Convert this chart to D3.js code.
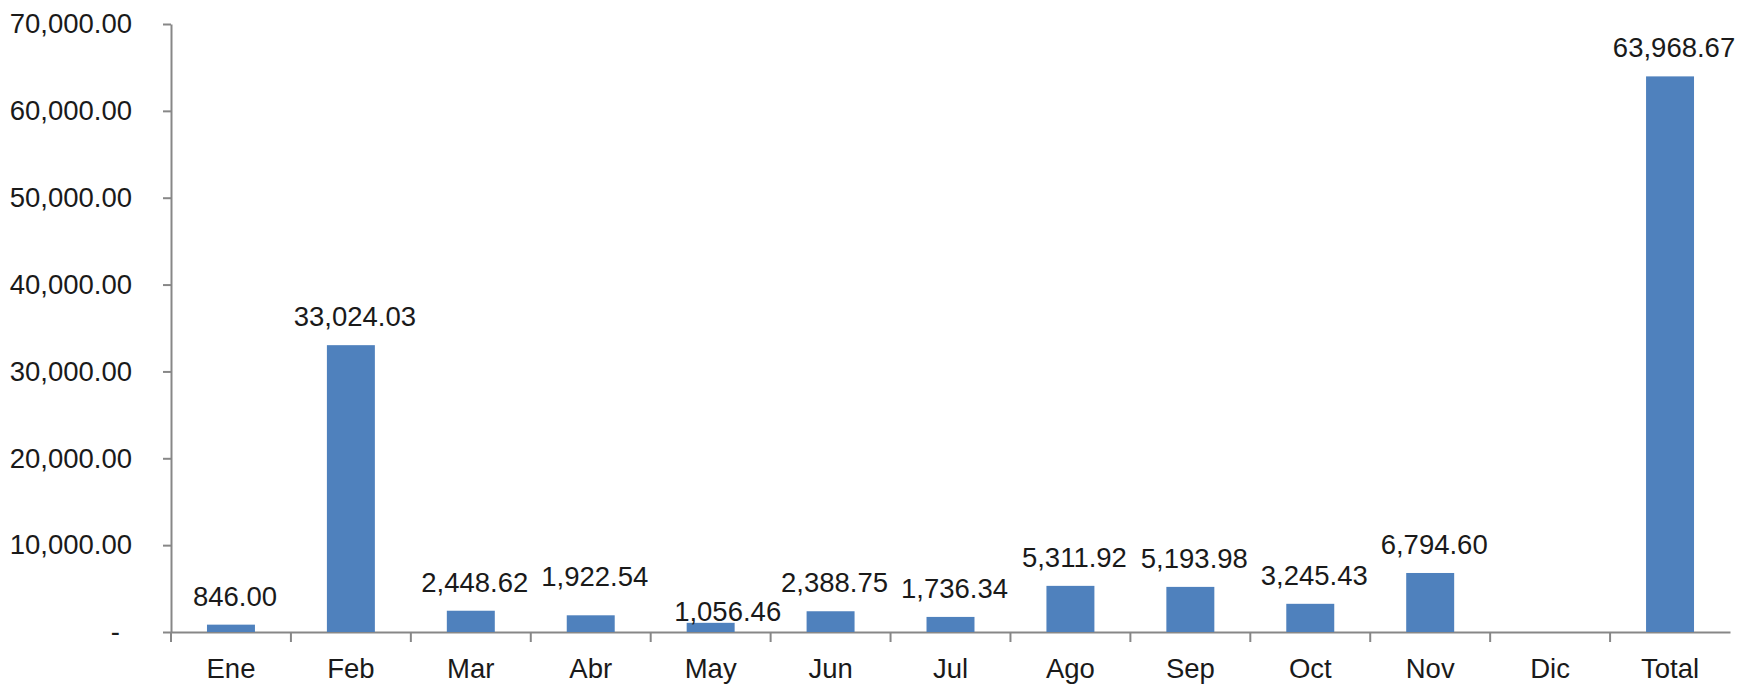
<!DOCTYPE html>
<html>
<head>
<meta charset="utf-8">
<script src="https://cdn.jsdelivr.net/npm/d3@7"></script>
<style>
  body { margin: 0; background: #ffffff; }
  text { font-family: "Liberation Sans", Arial, sans-serif; fill: #1a1a1a; }
</style>
</head>
<body>
<div id="chart"></div>
<script>
// chart data
const categories = ["Ene", "Feb", "Mar", "Abr", "May", "Jun", "Jul", "Ago", "Sep", "Oct", "Nov", "Dic", "Total"];
const values = [846.00, 33024.03, 2448.62, 1922.54, 1056.46, 2388.75, 1736.34, 5311.92, 5193.98, 3245.43, 6794.60, null, 63968.67];
const yTicks = [0, 10000, 20000, 30000, 40000, 50000, 60000, 70000];

// dimensions
const width = 1741, height = 684;
const margin = {top: 24, right: 11, bottom: 52, left: 171};
const fontSize = 27.5;
const axisColor = "#878787";
const barColor = "#4F81BD";

const svg = d3.select("#chart")
    .append("svg")
        .attr("width", width)
        .attr("height", height);

// scales
const x = d3.scaleBand()
    .domain(categories)
    .range([margin.left, width - margin.right])
    .padding(0);

const y = d3.scaleLinear()
    .domain([0, 70000])
    .range([height - margin.bottom, margin.top]);

const barW = x.bandwidth() * 0.4;
const fmt = d3.format(",.2f");

const data = categories.map((c, i) => ({cat: c, value: values[i]}));

// y axis
const yAxis = svg.append("g")
    .attr("transform", "translate(" + margin.left + ",0)")
    .call(d3.axisLeft(y)
        .tickValues(yTicks)
        .tickSize(8)
        .tickSizeOuter(0)
        .tickPadding(31)
        .tickFormat(d => d === 0 ? "-" : fmt(d)));
yAxis.selectAll("path, line").attr("stroke", axisColor).attr("stroke-width", 2);
yAxis.selectAll("text")
    .attr("font-size", fontSize)
    .attr("font-family", "Liberation Sans, Arial, sans-serif")
    .attr("fill", "#1a1a1a")
    .attr("dx", d => d === 0 ? -12 : 0);

// x axis (labels only, ticks drawn at category boundaries)
const xAxis = svg.append("g")
    .attr("transform", "translate(0," + y(0) + ")")
    .call(d3.axisBottom(x).tickSize(0).tickSizeOuter(0).tickPadding(26));
xAxis.select("path").attr("stroke", axisColor).attr("stroke-width", 2);
xAxis.selectAll("text")
    .attr("font-size", fontSize)
    .attr("font-family", "Liberation Sans, Arial, sans-serif")
    .attr("fill", "#1a1a1a");

svg.append("g")
    .selectAll("line")
    .data(categories)
    .join("line")
        .attr("x1", d => x(d))
        .attr("x2", d => x(d))
        .attr("y1", y(0))
        .attr("y2", y(0) + 10)
        .attr("stroke", axisColor)
        .attr("stroke-width", 2);

// bars
const withValue = data.filter(d => d.value !== null);

svg.append("g")
    .selectAll("rect")
    .data(withValue)
    .join("rect")
        .attr("x", d => x(d.cat) + (x.bandwidth() - barW) / 2)
        .attr("y", d => y(d.value))
        .attr("width", barW)
        .attr("height", d => y(0) - y(d.value))
        .attr("fill", barColor);

// value labels (two of them were moved by hand in the original)
const nudge = {Abr: [0, -10], May: [13, 17]};

svg.append("g")
    .selectAll("text")
    .data(withValue)
    .join("text")
        .attr("x", d => x(d.cat) + x.bandwidth() / 2 + 4 + (nudge[d.cat] ? nudge[d.cat][0] : 0))
        .attr("y", d => y(d.value) - 19 + (nudge[d.cat] ? nudge[d.cat][1] : 0))
        .attr("text-anchor", "middle")
        .attr("font-size", fontSize)
        .text(d => fmt(d.value));
</script>
</body>
</html>
